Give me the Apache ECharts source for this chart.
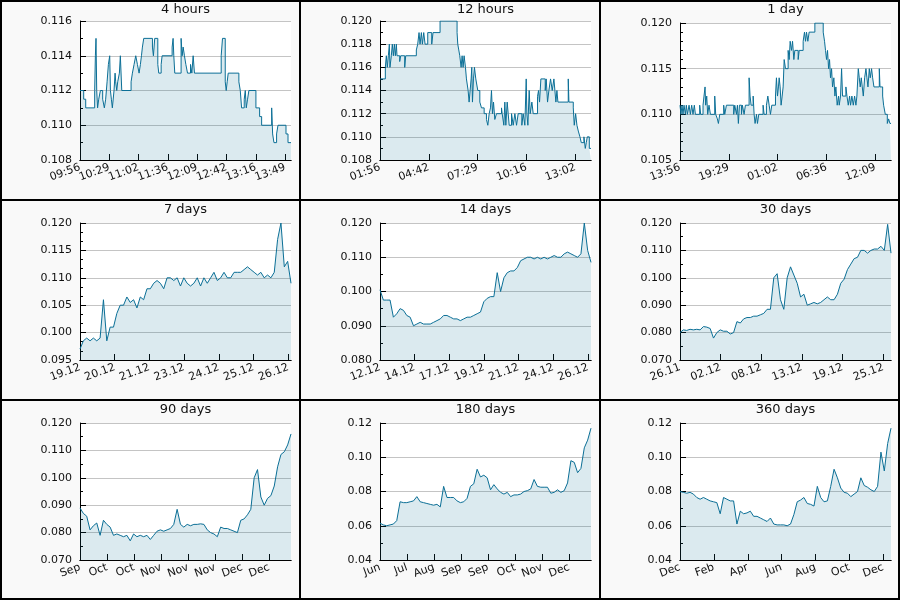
<!DOCTYPE html>
<html><head><meta charset="utf-8">
<script src="https://cdn.jsdelivr.net/npm/echarts@6/dist/echarts.min.js"></script>
<style>html,body{margin:0;padding:0;background:#f9f9f9}#c{width:900px;height:600px}</style>
</head><body><div id="c"></div><script>
// ---- data ----
const panelTitles = ['4 hours','12 hours','1 day','7 days','14 days','30 days','90 days','180 days','360 days'];
// x spans: minutes, minutes, hours, then days
const spans = [240, 720, 24, 7, 14, 30, 90, 180, 360];
const tickSteps = [100/3, 500/3, 50/9, 1.152, 2.3, 5.78, 11.53, 23.07, 57.8];
const tickLabels4h = ['09:56','10:29','11:02','11:36','12:09','12:42','13:16','13:49'];
const tickLabels12h = ['01:56','04:42','07:29','10:16','13:02'];
const tickLabels1d = ['13:56','19:29','01:02','06:36','12:09'];
const tickLabels7d = ['19.12','20.12','21.12','23.12','24.12','25.12','26.12'];
const tickLabels14d = ['12.12','14.12','17.12','19.12','21.12','24.12','26.12'];
const tickLabels30d = ['26.11','02.12','08.12','13.12','19.12','25.12'];
const tickLabels90d = ['Sep','Oct','Oct','Nov','Nov','Nov','Dec','Dec'];
const tickLabels180d = ['Jun','Jul','Aug','Sep','Sep','Oct','Nov','Dec'];
const tickLabels360d = ['Dec','Feb','Apr','Jun','Aug','Oct','Dec'];
const yMins = [0.108,0.108,0.105,0.095,0.080,0.070,0.070,0.04,0.04];
const yMaxs = [0.116,0.120,0.120,0.120,0.120,0.120,0.120,0.12,0.12];
const yIntervals = [0.002,0.002,0.005,0.005,0.010,0.010,0.010,0.02,0.02];
const yMinorSplits = [2,2,5,3,2,2,2,2,2];
const yDecimals = [3,3,3,3,3,3,3,2,2];

// [minutes, price]
const data4h = [[0,0.112],[4.2,0.1115],[6.5,0.111],[16.7,0.112],[17.5,0.114],[18.2,0.115],[19,0.112],[20,0.111],[21.3,0.1115],[23.2,0.112],[25.8,0.1115],[27.7,0.111],[29.2,0.1115],[30.8,0.1125],[32.3,0.1135],[33.8,0.114],[34.6,0.112],[35.7,0.1115],[36.8,0.111],[38.7,0.112],[39.9,0.113],[40.6,0.1125],[41.8,0.112],[42.9,0.1125],[44.8,0.113],[45.9,0.114],[47.5,0.112],[58.1,0.1125],[59.6,0.113],[61.5,0.1135],[63.4,0.114],[65.3,0.1135],[67.2,0.113],[68.7,0.1135],[69.9,0.114],[71,0.1145],[72.5,0.115],[82.4,0.1145],[83.5,0.114],[85,0.115],[88.5,0.1135],[89.6,0.113],[92.3,0.1135],[93.4,0.114],[104.8,0.1145],[105.9,0.115],[106.7,0.114],[107.8,0.113],[115,0.115],[116.2,0.114],[117.3,0.1145],[118.8,0.114],[120.4,0.1135],[122.3,0.113],[125.7,0.1135],[127.2,0.113],[128.7,0.114],[130.2,0.113],[160.6,0.114],[162.1,0.115],[165.2,0.1125],[166.3,0.112],[167.4,0.1125],[168.6,0.113],[180.7,0.1125],[182.3,0.112],[183.8,0.111],[186.8,0.1115],[188,0.112],[189.1,0.111],[190.6,0.1115],[192.1,0.112],[200.1,0.111],[204.3,0.1105],[206.6,0.110],[218,0.111],[219.1,0.1095],[220.6,0.109],[223.6,0.1095],[225.2,0.110],[234.3,0.1095],[236.6,0.109],[240,0.109]];
// [minutes, price]
const data12h = [[0,0.115],[18.2,0.116],[21.6,0.117],[25,0.116],[28.5,0.117],[31.9,0.118],[34,0.116],[38.7,0.117],[42,0.118],[45.6,0.117],[49,0.118],[52.4,0.117],[55.8,0.118],[58,0.117],[67.2,0.1165],[70.6,0.117],[84.3,0.116],[87.7,0.117],[124,0.1175],[128.7,0.118],[133.2,0.119],[136.7,0.118],[141.2,0.119],[144.6,0.118],[149.2,0.119],[153.8,0.118],[162.9,0.119],[176.5,0.118],[181,0.119],[205,0.120],[263,0.119],[265.4,0.118],[268.8,0.1175],[272.2,0.117],[276.8,0.116],[280.2,0.117],[283.6,0.116],[287,0.117],[291.6,0.116],[295,0.115],[300.7,0.114],[304.1,0.113],[307.5,0.114],[311,0.115],[313.2,0.116],[315.5,0.113],[318.9,0.115],[322.3,0.116],[326.9,0.115],[333.7,0.114],[340.6,0.113],[346.3,0.1125],[355.4,0.112],[363.3,0.1115],[367.9,0.111],[372.5,0.112],[377,0.1125],[380.4,0.114],[383.8,0.112],[387.3,0.113],[391.8,0.1115],[397.5,0.112],[414.6,0.1125],[416.9,0.112],[422.6,0.111],[426,0.113],[429.4,0.111],[434,0.113],[437.4,0.112],[440.8,0.111],[448.8,0.112],[454.5,0.111],[460.2,0.112],[465.9,0.111],[471.5,0.112],[484,0.111],[488.6,0.112],[494.3,0.111],[498.9,0.115],[501.1,0.112],[504.6,0.111],[509.1,0.114],[512.5,0.112],[518.2,0.113],[522.8,0.112],[537.6,0.1135],[541,0.114],[544.4,0.113],[549,0.115],[563.8,0.114],[567.2,0.115],[571.7,0.113],[576.3,0.114],[582,0.115],[587.7,0.114],[593.4,0.115],[596.8,0.114],[600.2,0.113],[603.7,0.114],[607.1,0.113],[642.4,0.115],[644.7,0.113],[659.5,0.1125],[662.9,0.111],[667.5,0.112],[672,0.111],[676.6,0.1105],[682.3,0.110],[686.8,0.1095],[695.9,0.110],[700.5,0.109],[703.9,0.1095],[707.3,0.110],[714.2,0.109],[720,0.109]];
// [hours, price]
const data1d = [[0,0.111],[0.11,0.110],[0.23,0.111],[0.34,0.110],[0.46,0.111],[0.61,0.110],[0.72,0.111],[0.84,0.110],[1.03,0.111],[1.18,0.110],[1.33,0.111],[1.48,0.110],[1.63,0.111],[1.75,0.110],[2.24,0.111],[2.35,0.110],[2.62,0.111],[2.73,0.112],[2.85,0.113],[2.92,0.111],[3.04,0.112],[3.15,0.110],[3.30,0.111],[3.46,0.110],[3.95,0.112],[4.06,0.110],[4.25,0.1095],[4.37,0.109],[4.52,0.110],[4.97,0.111],[5.09,0.110],[5.28,0.111],[6.11,0.110],[6.23,0.111],[6.42,0.110],[6.53,0.111],[6.64,0.109],[6.76,0.111],[6.99,0.110],[7.10,0.111],[7.29,0.110],[7.44,0.111],[7.86,0.114],[7.97,0.112],[8.09,0.111],[8.32,0.112],[8.43,0.110],[8.54,0.109],[8.70,0.110],[8.81,0.109],[8.96,0.110],[9.45,0.111],[9.57,0.110],[9.83,0.111],[9.99,0.112],[10.14,0.111],[10.29,0.110],[10.44,0.111],[10.86,0.112],[10.97,0.114],[11.09,0.112],[11.20,0.113],[11.28,0.114],[11.39,0.113],[11.50,0.111],[11.62,0.112],[11.73,0.113],[11.85,0.116],[12.00,0.115],[12.30,0.117],[12.42,0.116],[12.53,0.118],[12.68,0.117],[12.80,0.118],[12.95,0.116],[13.06,0.117],[13.44,0.116],[13.56,0.117],[14.01,0.118],[14.16,0.119],[14.28,0.118],[14.39,0.119],[14.54,0.118],[14.69,0.119],[15.34,0.120],[16.29,0.119],[16.44,0.118],[16.55,0.117],[16.67,0.116],[16.78,0.117],[16.90,0.115],[17.01,0.116],[17.12,0.114],[17.24,0.115],[17.35,0.113],[17.50,0.114],[17.62,0.112],[17.73,0.113],[17.88,0.111],[18.04,0.112],[18.11,0.111],[18.26,0.112],[18.38,0.115],[18.49,0.112],[18.87,0.113],[18.99,0.112],[19.14,0.111],[19.29,0.112],[19.40,0.111],[19.55,0.112],[19.71,0.111],[19.86,0.112],[20.01,0.111],[20.12,0.112],[20.28,0.115],[20.39,0.114],[20.50,0.113],[20.62,0.114],[20.73,0.113],[20.85,0.112],[21.00,0.114],[21.15,0.115],[21.26,0.114],[21.38,0.113],[21.53,0.115],[21.64,0.114],[21.79,0.115],[21.91,0.114],[22.06,0.113],[22.67,0.115],[22.75,0.113],[23.05,0.112],[23.16,0.111],[23.35,0.110],[23.58,0.109],[23.73,0.1095],[23.88,0.109],[24,0.109]];
// evenly spaced samples over the span
const vals7d = [0.097,0.0985,0.099,0.0985,0.099,0.0985,0.099,0.106,0.0985,0.101,0.101,0.1035,0.105,0.105,0.1065,0.1055,0.106,0.1045,0.1065,0.106,0.108,0.108,0.109,0.1095,0.109,0.108,0.110,0.110,0.1095,0.110,0.1085,0.110,0.109,0.1085,0.109,0.110,0.1085,0.110,0.109,0.110,0.111,0.1095,0.110,0.111,0.110,0.110,0.111,0.111,0.111,0.1115,0.112,0.1115,0.111,0.1105,0.111,0.110,0.1105,0.110,0.111,0.117,0.120,0.112,0.113,0.109];
const vals14d = [0.1005,0.0975,0.0975,0.0975,0.0925,0.0935,0.095,0.0945,0.093,0.0925,0.090,0.0905,0.091,0.0905,0.0905,0.0905,0.091,0.0915,0.092,0.093,0.093,0.0925,0.092,0.092,0.0915,0.092,0.0925,0.0925,0.093,0.0935,0.094,0.097,0.098,0.0985,0.0985,0.1055,0.100,0.104,0.1055,0.106,0.106,0.107,0.109,0.1095,0.110,0.110,0.1095,0.110,0.1095,0.110,0.1095,0.110,0.1105,0.110,0.110,0.111,0.1115,0.111,0.1105,0.110,0.111,0.120,0.112,0.1085];
const vals30d = [0.080,0.081,0.0808,0.0812,0.081,0.0812,0.081,0.0822,0.082,0.0815,0.078,0.080,0.081,0.0805,0.0805,0.0795,0.080,0.084,0.0835,0.085,0.0855,0.0855,0.086,0.086,0.0865,0.087,0.0885,0.0885,0.100,0.1015,0.092,0.0885,0.100,0.104,0.101,0.098,0.093,0.094,0.090,0.0905,0.091,0.0905,0.091,0.092,0.093,0.092,0.092,0.094,0.098,0.0995,0.103,0.105,0.107,0.1075,0.110,0.110,0.109,0.110,0.1105,0.1105,0.1115,0.110,0.1195,0.109];
const vals90d = [0.089,0.087,0.086,0.081,0.0825,0.0835,0.079,0.0845,0.083,0.082,0.079,0.0795,0.079,0.0785,0.079,0.077,0.0795,0.0785,0.079,0.0785,0.079,0.0775,0.079,0.0805,0.081,0.0805,0.081,0.0815,0.083,0.0885,0.083,0.082,0.083,0.0825,0.083,0.083,0.0832,0.083,0.081,0.080,0.0795,0.0785,0.082,0.0815,0.0815,0.081,0.0805,0.080,0.0845,0.085,0.0865,0.0885,0.100,0.103,0.093,0.090,0.0925,0.0935,0.097,0.104,0.1085,0.1095,0.112,0.116];
const vals180d = [0.0615,0.0605,0.060,0.0605,0.061,0.063,0.074,0.0735,0.0735,0.074,0.0745,0.077,0.074,0.0735,0.073,0.0725,0.072,0.0725,0.071,0.083,0.0765,0.0765,0.0765,0.0745,0.0735,0.074,0.076,0.083,0.0845,0.093,0.0885,0.0895,0.088,0.081,0.084,0.0815,0.0795,0.0785,0.0795,0.077,0.078,0.078,0.0785,0.080,0.0805,0.0815,0.087,0.083,0.0825,0.0825,0.0825,0.079,0.0795,0.081,0.0795,0.0805,0.085,0.098,0.097,0.091,0.0935,0.1055,0.110,0.117];
const vals360d = [0.080,0.0795,0.079,0.0795,0.0785,0.0765,0.0755,0.0765,0.0755,0.0745,0.074,0.0735,0.067,0.0765,0.0755,0.0745,0.0745,0.061,0.0685,0.067,0.0675,0.0685,0.0655,0.0655,0.0645,0.0635,0.0625,0.0645,0.061,0.0605,0.0605,0.0605,0.060,0.061,0.0665,0.074,0.075,0.0765,0.073,0.0725,0.0715,0.083,0.0765,0.074,0.0745,0.083,0.093,0.088,0.082,0.0795,0.079,0.077,0.0785,0.080,0.088,0.0835,0.0825,0.081,0.080,0.083,0.103,0.092,0.108,0.117];

// ---- build ----
const tickLabelSets = [tickLabels4h,tickLabels12h,tickLabels1d,tickLabels7d,tickLabels14d,tickLabels30d,tickLabels90d,tickLabels180d,tickLabels360d];
function sampled(vals, span){ return vals.map((v,i)=>[i*span/(vals.length-1), v]); }
const seriesData = [data4h, data12h, data1d,
  sampled(vals7d,7), sampled(vals14d,14), sampled(vals30d,30),
  sampled(vals90d,90), sampled(vals180d,180), sampled(vals360d,360)];

const LINE = '#0b6f96';
const FONT = 'DejaVu Sans';
const TXT = '#111';
const grids=[], xAxes=[], yAxes=[], series=[], graphics=[];
function xAxisDef(p, tv, step, labels){
  return {type:'value', gridIndex:p, position:'bottom', min:0, max:spans[p],
    axisLine:{show:true, onZero:false, lineStyle:{color:'#000', width:1}},
    axisTick:{show:true, inside:true, length:6, customValues:tv, lineStyle:{color:'#000'}},
    axisLabel:{show:true, customValues:tv, rotate:20, margin:7, fontSize:11, fontFamily:FONT, color:TXT,
      hideOverlap:false, showMinLabel:true, showMaxLabel:true,
      formatter:(v)=>{const k=Math.round(v/step); return labels[k]!==undefined?labels[k]:'';}},
    splitLine:{show:false}, minorTick:{show:false}};
}
for (let p=0;p<9;p++){
  const c=p%3, r=Math.floor(p/3);
  const ox=300*c, oy=200*r;
  const top = oy + (p<2 ? 21 : 23);
  const bottom = oy + 160;
  grids.push({left:ox+80, top:top, width:211, height:bottom-top, show:true, backgroundColor:'#ffffff', borderWidth:0, containLabel:false});
  const step = tickSteps[p], labels = tickLabelSets[p];
  const tv = labels.map((_,i)=>i*step);
  // even-indexed and odd-indexed ticks on two coincident bottom axes (avoids automatic label thinning)
  const xMainIdx = xAxes.length;
  xAxes.push(xAxisDef(p, tv.filter((_,i)=>i%2===0), step, labels));
  xAxes.push(xAxisDef(p, tv.filter((_,i)=>i%2===1), step, labels));
  const dec=yDecimals[p];
  yAxes.push({type:'value', gridIndex:p, min:yMins[p], max:yMaxs[p], interval:yIntervals[p],
    axisLine:{show:true, onZero:false, lineStyle:{color:'#000', width:1}},
    axisTick:{show:true, inside:true, length:6, lineStyle:{color:'#000'}},
    minorTick:{show:true, splitNumber:yMinorSplits[p], length:3, lineStyle:{color:'#000'}},
    axisLabel:{margin:8, fontSize:11, fontFamily:FONT, color:TXT, hideOverlap:false, showMinLabel:true, showMaxLabel:true,
      formatter:(v)=>v.toFixed(dec)},
    splitLine:{show:true, lineStyle:{color:'#c4c4c4', width:1}}});
  series.push({type:'line', xAxisIndex:xMainIdx, yAxisIndex:p, data:seriesData[p], step: p<3 ? 'end' : false,
    showSymbol:false, symbol:'none', lineStyle:{color:LINE, width:1}, itemStyle:{color:LINE},
    areaStyle:{color:LINE, opacity:0.15, origin:'start'}, silent:true, animation:false});
  graphics.push({type:'text', x:ox+185.5, y:oy+10, silent:true,
    style:{text:panelTitles[p], x:0, y:0, align:'center', verticalAlign:'middle', font:'13px "DejaVu Sans"', fill:TXT}});
}
graphics.push({type:'rect', shape:{x:1,y:1,width:898,height:598}, style:{fill:'none', stroke:'#000', lineWidth:2}, z:100});
[300,600].forEach(x=>graphics.push({type:'line', shape:{x1:x,y1:0,x2:x,y2:600}, style:{stroke:'#000', lineWidth:2}, z:100}));
[200,400].forEach(y=>graphics.push({type:'line', shape:{x1:0,y1:y,x2:900,y2:y}, style:{stroke:'#000', lineWidth:2}, z:100}));

const chart = echarts.init(document.getElementById('c'));
chart.setOption({backgroundColor:'#f9f9f9', animation:false, grid:grids, xAxis:xAxes, yAxis:yAxes, series:series, graphic:graphics});
</script></body></html>
